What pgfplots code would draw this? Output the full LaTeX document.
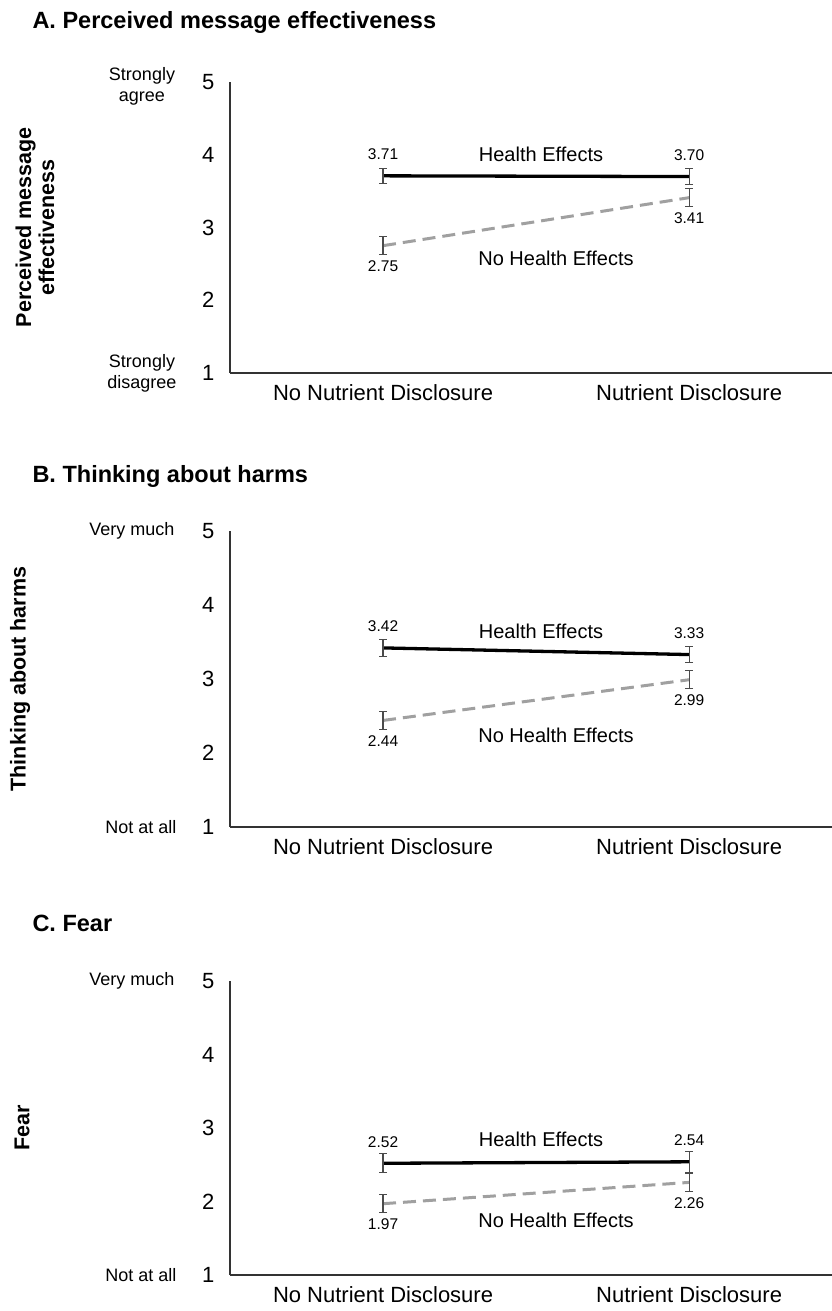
\documentclass[border=0pt]{standalone}
\usepackage{pgfplots}
\pgfplotsset{compat=1.18}
\usepackage{fontspec}
\setmainfont{Liberation Sans}
\definecolor{nhe}{RGB}{160,160,160}
\definecolor{ebar}{RGB}{75,75,75}
\newcommand{\fs}[2]{\fontsize{#1}{#2}\selectfont}
\pgfplotsset{
 panel/.style={
  scale only axis, width=603pt, xmin=-0.5, xmax=1.47, ymin=1, ymax=5,
  axis x line=bottom, axis y line=left,
  axis line style={-, line width=1.3pt, black!80},
  xtick={0,1}, xticklabels={No Nutrient Disclosure, Nutrient Disclosure},
  ytick={1,2,3,4,5}, major tick length=0pt,
  /pgf/number format/assume math mode=true,
  yticklabel style={font=\fs{22}{24}, xshift=-12pt},
  xticklabel style={font=\fs{22}{26}, yshift=-8pt},
  clip=false, anchor=south west,
 },
 ebars/.style={/pgfplots/error bars/.cd, y dir=both, y explicit,
   error bar style={ebar, line width=1.1pt, solid},
   error mark options={rotate=90, mark size=4pt, ebar, line width=1.1pt, solid},
   /pgfplots/.cd},
 he/.style={black, line width=3.3pt, mark=none,
   nodes near coords, point meta=explicit symbolic,
   every node near coord/.style={anchor=south, yshift=11pt, font=\fs{15.5}{18}, black},
   ebars},
 nh/.style={nhe, line width=3pt, dash pattern=on 13pt off 7pt, mark=none,
   nodes near coords, point meta=explicit symbolic,
   every node near coord/.style={anchor=north, yshift=-10pt, font=\fs{15.5}{18}, black},
   ebars},
}
\begin{document}
\begin{tikzpicture}
\useasboundingbox (0pt,0pt) rectangle (832pt,1311pt);
% Panel A
\begin{axis}[panel, at={(230pt,938pt)}, height=291pt]
\addplot[he] table[x=x, y=y, y error=e, meta=l] {
x y e l
0 3.71 0.10 3.71
1 3.70 0.11 3.70
};
\addplot[nh] table[x=x, y=y, y error=e, meta=l] {
x y e l
0 2.75 0.12 2.75
1 3.41 0.12 3.41
};
\node[font=\fs{20}{24}] at (axis cs:0.516,4.01) {Health Effects};
\node[font=\fs{20}{24}] at (axis cs:0.565,2.58) {No Health Effects};
\node[font=\fs{18}{21}, align=center] at ([xshift=-88pt, yshift=-4pt]axis cs:-0.5,5) {Strongly\\agree};
\node[font=\fs{18}{21}, align=center] at ([xshift=-88pt]axis cs:-0.5,1) {Strongly\\disagree};
\node[font=\bfseries\fs{21.5}{23}, align=center, rotate=90] at ([xshift=-195pt]rel axis cs:0,0.5) {Perceived message\\effectiveness};
\node[font=\bfseries\fs{23.5}{26}, anchor=west] at ([xshift=-201pt, yshift=60pt]rel axis cs:0,1) {A. Perceived message effectiveness};
\end{axis}
% Panel B
\begin{axis}[panel, at={(230pt,484pt)}, height=296pt]
\addplot[he] table[x=x, y=y, y error=e, meta=l] {
x y e l
0 3.42 0.11 3.42
1 3.33 0.11 3.33
};
\addplot[nh] table[x=x, y=y, y error=e, meta=l] {
x y e l
0 2.44 0.12 2.44
1 2.99 0.12 2.99
};
\node[font=\fs{20}{24}] at (axis cs:0.516,3.64) {Health Effects};
\node[font=\fs{20}{24}] at (axis cs:0.565,2.24) {No Health Effects};
\node[font=\fs{18}{21}, anchor=east] at ([xshift=-52pt]axis cs:-0.5,5) {Very much};
\node[font=\fs{18}{21}, anchor=east] at ([xshift=-50pt]axis cs:-0.5,1) {Not at all};
\node[font=\bfseries\fs{21.5}{23}, rotate=90] at ([xshift=-210pt]rel axis cs:0,0.5) {Thinking about harms};
\node[font=\bfseries\fs{23.5}{26}, anchor=west] at ([xshift=-201pt, yshift=55pt]rel axis cs:0,1) {B. Thinking about harms};
\end{axis}
% Panel C
\begin{axis}[panel, at={(230pt,36pt)}, height=294pt]
\addplot[he] table[x=x, y=y, y error=e, meta=l] {
x y e l
0 2.52 0.13 2.52
1 2.54 0.14 2.54
};
\addplot[nh] table[x=x, y=y, y error=e, meta=l] {
x y e l
0 1.97 0.12 1.97
1 2.26 0.12 2.26
};
\node[font=\fs{20}{24}] at (axis cs:0.516,2.84) {Health Effects};
\node[font=\fs{20}{24}] at (axis cs:0.565,1.75) {No Health Effects};
\node[font=\fs{18}{21}, anchor=east] at ([xshift=-52pt]axis cs:-0.5,5) {Very much};
\node[font=\fs{18}{21}, anchor=east] at ([xshift=-50pt]axis cs:-0.5,1) {Not at all};
\node[font=\bfseries\fs{21.5}{23}, rotate=90] at ([xshift=-208pt]rel axis cs:0,0.5) {Fear};
\node[font=\bfseries\fs{23.5}{26}, anchor=west] at ([xshift=-201pt, yshift=58pt]rel axis cs:0,1) {C. Fear};
\end{axis}
\end{tikzpicture}
\end{document}
